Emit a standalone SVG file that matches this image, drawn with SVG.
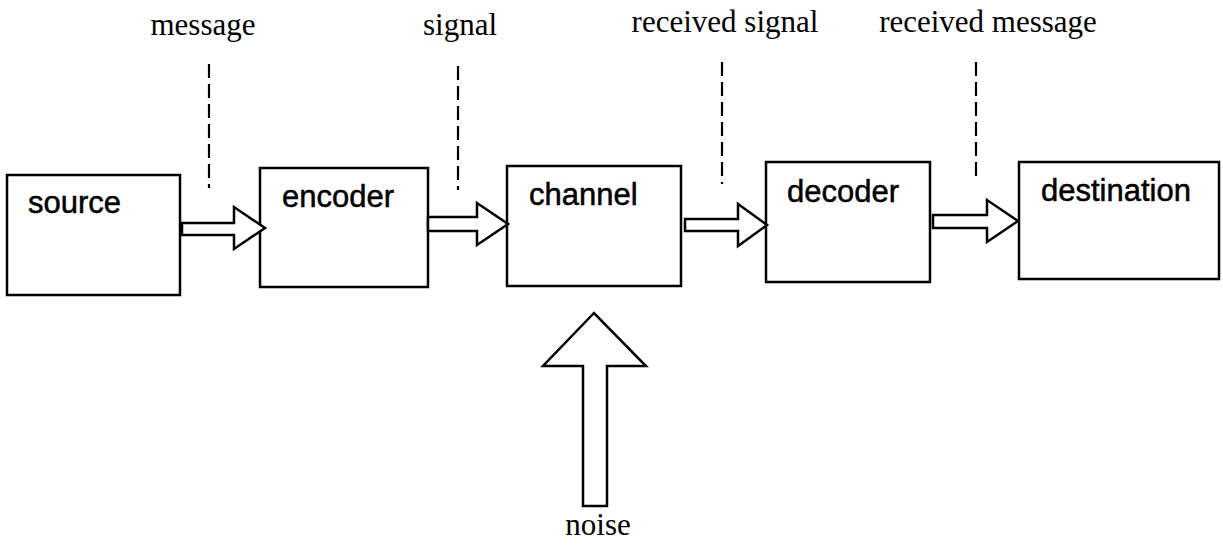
<svg xmlns="http://www.w3.org/2000/svg" width="1223" height="549" viewBox="0 0 1223 549">
<style>
.box{fill:#fff;stroke:#000;stroke-width:2.5}
.lbl{font-family:"Liberation Sans",Arial,sans-serif;font-size:31px;fill:#000;stroke:#000;stroke-width:0.5}
.ser{font-family:"Liberation Serif","Times New Roman",serif;font-size:31px;fill:#000}
.dash{stroke:#000;stroke-width:2.2;stroke-dasharray:14 6;fill:none}
.arr{fill:#fff;stroke:#000;stroke-width:2.5;stroke-linejoin:miter}
</style>
<rect width="1223" height="549" fill="#fff"/>
<g id="labels">
<text class="ser" x="203" y="35" text-anchor="middle">message</text>
<text class="ser" x="460" y="35" text-anchor="middle">signal</text>
<text class="ser" x="725" y="32" text-anchor="middle">received signal</text>
<text class="ser" x="988" y="32" text-anchor="middle">received message</text>
<text class="ser" x="598" y="535" text-anchor="middle">noise</text>
</g>
<g id="dividers">
<line class="dash" x1="209" y1="64" x2="209" y2="188"/>
<line class="dash" x1="458" y1="66" x2="458" y2="190"/>
<line class="dash" x1="722" y1="62" x2="722" y2="184"/>
<line class="dash" x1="976" y1="62" x2="976" y2="180"/>
</g>
<g id="source"><rect class="box" x="7" y="175" width="173" height="120"/><text class="lbl" x="28" y="213">source</text></g>
<g id="encoder"><rect class="box" x="260" y="168" width="168" height="119"/><text class="lbl" x="282" y="207">encoder</text></g>
<g id="channel"><rect class="box" x="507" y="166" width="174" height="120"/><text class="lbl" x="529" y="205">channel</text></g>
<g id="decoder"><rect class="box" x="766" y="162" width="164" height="120"/><text class="lbl" x="787" y="202">decoder</text></g>
<g id="destination"><rect class="box" x="1019" y="162" width="200" height="117"/><text class="lbl" x="1041" y="201">destination</text></g>
<g id="connectors">
<polygon class="arr" points="182,223 234,223 234,207 265,228 234,249 234,235 182,235"/>
<polygon class="arr" points="428,217 477,217 477,203 508,224 477,245 477,231 428,231"/>
<polygon class="arr" points="685,219 738,219 738,204 767,225 738,246 738,231 685,231"/>
<polygon class="arr" points="933,215 987,215 987,200 1018,221 987,242 987,228 933,228"/>
<polygon class="arr" points="583,506 583,366 543,366 594,313 646,366 607,366 607,506"/>
</g>
</svg>
